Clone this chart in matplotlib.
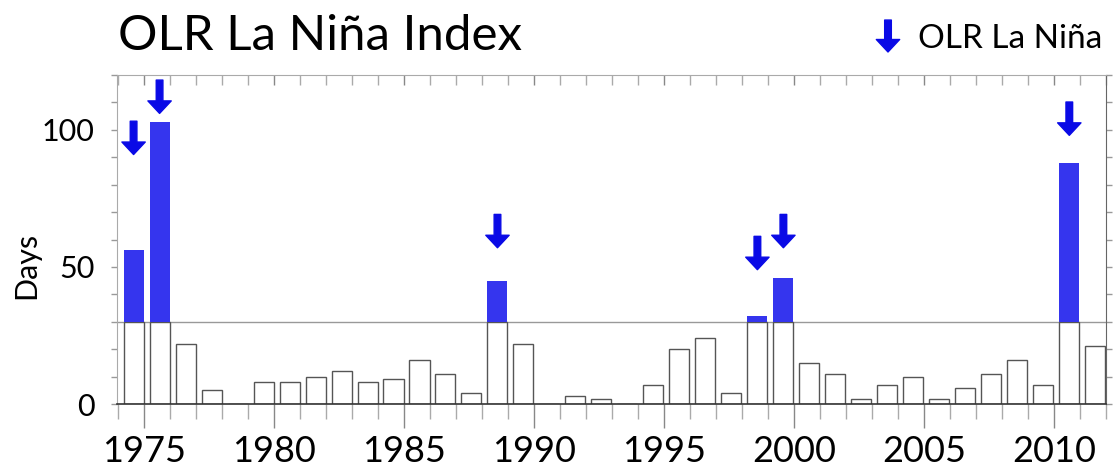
import matplotlib
matplotlib.use("Agg")
import matplotlib.pyplot as plt
from matplotlib.ticker import MultipleLocator

plt.rcParams["font.family"] = ["Lato", "DejaVu Sans"]

# one bar per year, days of OLR La Nina conditions
years = list(range(1974, 2012))
days = [56, 103, 22, 5, 0, 8, 8, 10, 12, 8, 9, 16, 11, 4, 45, 22, 0, 3, 2,
        0, 7, 20, 24, 4, 32, 46, 15, 11, 2, 7, 10, 2, 6, 11, 16, 7, 88, 21]

threshold = 30

# years flagged as La Nina and where the arrow tip sits (days)
nina_years = [1974, 1975, 1988, 1998, 1999, 2010]
arrow_tip = [91, 106, 57, 49, 57, 98]

BLUE = "#3535ee"
ARROW_BLUE = "#0a0ae6"


def draw_arrow(ax, xy, xycoords, length_pt=24):
    ax.annotate(
        "",
        xy=xy,
        xycoords=xycoords,
        xytext=(0, length_pt),
        textcoords="offset points",
        annotation_clip=False,
        arrowprops=dict(
            arrowstyle="simple,head_length=0.75,head_width=1.4,tail_width=0.4",
            mutation_scale=12,
            color=ARROW_BLUE,
            shrinkA=0,
            shrinkB=0,
        ),
    )


def main():
    fig = plt.figure(figsize=(11.15, 4.66), dpi=100)
    ax = fig.add_axes([0.105, 0.133, 0.887, 0.706])

    lefts = [y + 0.2 for y in years]
    lower = [min(d, threshold) for d in days]

    # part above the threshold, only for bars that cross it
    over = [(y + 0.2, d - threshold) for y, d in zip(years, days) if d > threshold]

    ax.axhline(threshold, color="#999999", lw=1.0, zorder=1)
    ax.bar(lefts, lower, width=0.77, align="edge", color="white",
           edgecolor="#555555", linewidth=1.0, zorder=2)
    ax.bar([o[0] for o in over], [o[1] for o in over], width=0.77,
           align="edge", bottom=threshold, color=BLUE, linewidth=0, zorder=2)

    for yr, tip in zip(nina_years, arrow_tip):
        draw_arrow(ax, (yr + 0.585, tip), "data")

    ax.set_xlim(1973.95, 2012)
    ax.set_ylim(0, 120)

    ax.xaxis.set_minor_locator(MultipleLocator(1))
    ax.set_xticks(range(1975, 2011, 5))
    ax.set_yticks([0, 50, 100])
    ax.yaxis.set_minor_locator(MultipleLocator(10))

    ax.tick_params(axis="x", which="major", direction="out", length=17,
                   width=1.0, color="#888888", labelsize=26, pad=5,
                   top=True, labeltop=False)
    ax.tick_params(axis="x", which="minor", direction="out", length=11,
                   width=1.0, color="#aaaaaa", top=True)
    ax.tick_params(axis="y", which="both", direction="out", length=4,
                   width=1.0, color="#999999", labelsize=22, pad=12,
                   right=True)
    # crossing ticks along the top edge
    for t in ax.xaxis.get_major_ticks() + ax.xaxis.get_minor_ticks():
        t.tick2line.set_marker(3)
        t.tick2line.set_markersize(7)

    for side in ["left", "top"]:
        ax.spines[side].set_color("#aaaaaa")
    ax.spines["right"].set_color("#666666")
    ax.spines["bottom"].set_color("#333333")
    ax.spines["bottom"].set_linewidth(1.2)

    ax.set_ylabel("Days", fontsize=22)
    ax.yaxis.set_label_coords(-0.078, 0.42)

    fig.text(0.106, 1 - 50 / 466, "OLR La Niña Index", fontsize=35.5,
             va="baseline", ha="left")

    draw_arrow(ax, (888, 466 - 52), "figure pixels", length_pt=23)
    fig.text(918 / 1115, 1 - 48 / 466, "OLR La Niña", fontsize=24,
             va="baseline", ha="left")

    fig.savefig("out.png", dpi=100)


if __name__ == "__main__":
    main()
